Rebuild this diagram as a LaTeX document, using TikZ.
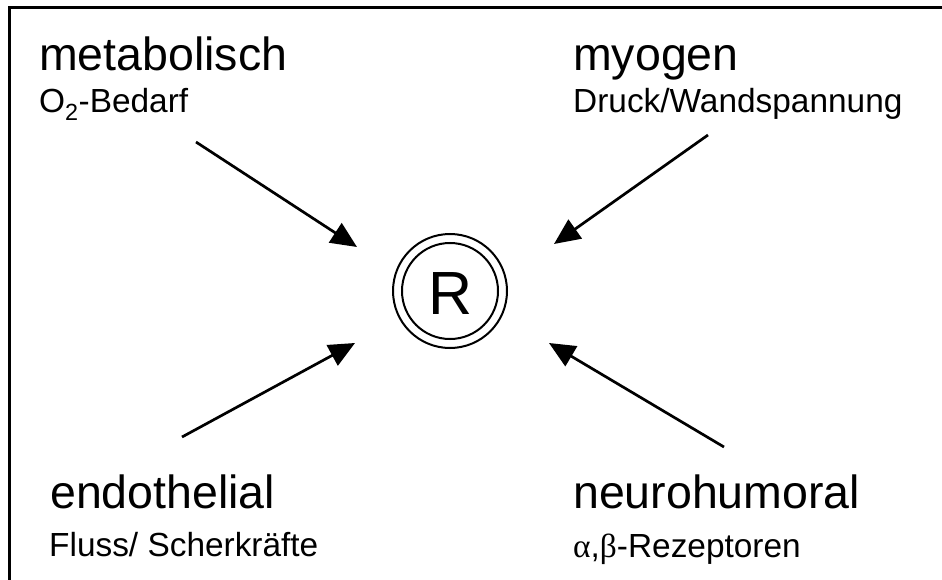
\documentclass[tikz,border=0pt]{standalone}
\usepackage{fontspec}
\setmainfont{Liberation Sans}
\newfontfamily\greekfont{Liberation Serif}
\usetikzlibrary{arrows.meta}
\tikzset{
  head/.style={anchor=base west, inner sep=0pt, font=\fontsize{46.5}{56}\selectfont},
  sub/.style={anchor=base west, inner sep=0pt, font=\fontsize{33.4}{40}\selectfont},
  arr/.style={line width=2.7pt, -{Triangle[length=26pt,width=23pt]}},
  ring/.style={draw, circle, line width=2pt}
}
\begin{document}
\begin{tikzpicture}[x=1pt,y=-1pt]
\useasboundingbox (0,0) rectangle (942,580);
\draw[line width=2.6pt] (9.7,581) -- (9.7,7.5) -- (943,7.5);
% centre
\node[ring, minimum size=114pt, inner sep=0pt] (outer) at (450,291) {};
\node[ring, minimum size=96pt, inner sep=0pt] (R) at (450,291) {};
\node[anchor=base, inner sep=0pt, font=\fontsize{61}{70}\selectfont] (Rtext) at (451,314) {R};
% labels
\node[head] (met) at (39,71) {metabolisch};
\node[sub] (metsub) at (39,113) {O\textsubscript{2}-Bedarf};
\node[head] (myo) at (573,71) {myogen};
\node[sub] (myosub) at (573,113) {Druck/Wandspannung};
\node[head] (endo) at (50,508) {endothelial};
\node[sub] (endosub) at (49,556) {Fluss/ Scherkräfte};
\node[head] (neuro) at (573,508) {neurohumoral};
\node[sub] (neurosub) at (573,557) {{\greekfont α},{\greekfont β}-Rezeptoren};
% arrow coordinates
\coordinate (a1) at (196,142);
\coordinate (t1) at (357,247);
\coordinate (a2) at (708,135);
\coordinate (t2) at (554,244);
\coordinate (a3) at (182,437);
\coordinate (t3) at (355,343);
\coordinate (a4) at (724,447);
\coordinate (t4) at (549,343);
\draw[arr] (a1) -- (t1);
\draw[arr] (a2) -- (t2);
\draw[arr] (a3) -- (t3);
\draw[arr] (a4) -- (t4);
\end{tikzpicture}
\end{document}
